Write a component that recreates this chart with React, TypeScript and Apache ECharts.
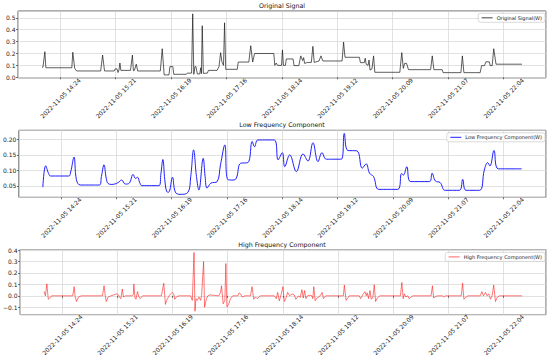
import React, { useEffect, useRef } from 'react';
import * as echarts from 'echarts';

// times are minutes since midnight on 2022-11-05
const origTimes = [845, 846, 848, 849, 876, 877, 879, 881, 906, 908, 910, 920, 921, 923, 924, 925, 926, 927, 937, 939, 940, 941, 943, 944.5, 968, 970, 972, 977, 978, 981, 982, 995, 996, 1000.5, 1001.7, 1002.8, 1004, 1005, 1006.5, 1009, 1010, 1010.7, 1011.6, 1012.7, 1017, 1018, 1027, 1029, 1030.7, 1032, 1033.7, 1034.8, 1036, 1048, 1049, 1060, 1062, 1064, 1066, 1086, 1087, 1088.5, 1090, 1094, 1095, 1096, 1098, 1099, 1106, 1107, 1112, 1114, 1116, 1117, 1118, 1121, 1125, 1126.6, 1128, 1133, 1135, 1137, 1157, 1158.5, 1160, 1175, 1176, 1180, 1181, 1182, 1184, 1185, 1186, 1188, 1189.7, 1191, 1217, 1219, 1220.6, 1222, 1224, 1226, 1249, 1250.7, 1252.4, 1261, 1262, 1280.5, 1282, 1283.6, 1300.5, 1302, 1305, 1306.5, 1310, 1311, 1313, 1314.6, 1317, 1344];
const origValues = [0.084, 0.085, 0.215, 0.08, 0.08, 0.21, 0.075, 0.053, 0.053, 0.187, 0.053, 0.053, 0.07, 0.07, 0.04, 0.06, 0.12, 0.058, 0.058, 0.187, 0.055, 0.058, 0.11, 0.053, 0.053, 0.24, 0.02, 0.02, 0.09, 0.09, 0.025, 0.025, 0.035, 0.035, 0.533, 0.025, 0.09, 0.09, 0.028, 0.028, 0.08, 0.03, 0.433, 0.033, 0.035, 0.058, 0.058, 0.09, 0.207, 0.13, 0.1, 0.458, 0.067, 0.067, 0.128, 0.128, 0.265, 0.128, 0.2, 0.2, 0.1, 0.12, 0.1, 0.1, 0.23, 0.1, 0.1, 0.154, 0.154, 0.098, 0.098, 0.18, 0.14, 0.165, 0.117, 0.125, 0.125, 0.26, 0.125, 0.137, 0.18, 0.137, 0.137, 0.296, 0.168, 0.168, 0.123, 0.123, 0.16, 0.11, 0.1, 0.145, 0.06, 0.07, 0.18, 0.042, 0.042, 0.207, 0.075, 0.117, 0.117, 0.064, 0.064, 0.18, 0.064, 0.064, 0.039, 0.039, 0.18, 0.039, 0.039, 0.098, 0.098, 0.13, 0.13, 0.098, 0.098, 0.24, 0.11, 0.11];

const lowTimes = [845, 848, 851, 853, 872, 874, 877.5, 880, 884, 904, 906, 908.7, 911, 913, 917, 923, 927, 931, 935, 939, 941.5, 943.5, 946, 948, 966, 968, 970, 972, 974, 976, 980, 983, 988, 996, 999, 1002, 1005, 1007.5, 1012, 1014, 1016, 1020, 1026.5, 1030, 1034.5, 1037.5, 1043, 1046.5, 1051, 1058.5, 1063, 1065.5, 1069, 1086, 1090, 1094.4, 1096.9, 1102.1, 1109, 1115.9, 1121.1, 1126.3, 1131.5, 1135.7, 1140.2, 1155.8, 1158.9, 1162.7, 1172, 1177.6, 1181.7, 1185.2, 1189.4, 1194.9, 1214.7, 1218.5, 1220.5, 1224, 1228, 1247.6, 1250.3, 1253.8, 1258.7, 1263.9, 1278.8, 1282.2, 1285.7, 1299.6, 1304.7, 1308.2, 1310.6, 1314.8, 1319.3, 1343.6];
const lowValues = [0.046, 0.115, 0.09, 0.082, 0.082, 0.095, 0.143, 0.07, 0.053, 0.053, 0.08, 0.118, 0.075, 0.058, 0.055, 0.06, 0.069, 0.056, 0.059, 0.087, 0.074, 0.078, 0.06, 0.051, 0.051, 0.09, 0.135, 0.07, 0.032, 0.03, 0.078, 0.03, 0.023, 0.029, 0.08, 0.166, 0.08, 0.037, 0.139, 0.08, 0.043, 0.059, 0.064, 0.118, 0.182, 0.071, 0.069, 0.075, 0.123, 0.125, 0.193, 0.176, 0.198, 0.198, 0.134, 0.157, 0.112, 0.15, 0.096, 0.153, 0.13, 0.189, 0.128, 0.157, 0.136, 0.136, 0.219, 0.164, 0.163, 0.107, 0.121, 0.091, 0.08, 0.039, 0.039, 0.09, 0.085, 0.112, 0.064, 0.064, 0.091, 0.066, 0.061, 0.036, 0.036, 0.071, 0.036, 0.036, 0.101, 0.125, 0.114, 0.164, 0.105, 0.105];

const highTimes = [845, 846.5, 848, 849.5, 851, 853, 875, 876.5, 877.5, 879, 881, 884, 906, 907.7, 909, 910, 912, 915, 921, 922.6, 924, 925.3, 926.7, 928, 930, 937, 938.2, 938.8, 940, 941, 942.6, 944, 945.4, 948, 967.6, 970, 971.8, 973, 975.6, 977.3, 978.7, 980.4, 981.5, 983.5, 986, 998, 999.8, 1001.6, 1002.6, 1003.6, 1005, 1006.8, 1008.5, 1009.5, 1011.6, 1012.6, 1014.4, 1016, 1018, 1027.5, 1029.3, 1030.3, 1032, 1033.8, 1034.8, 1035.9, 1037.6, 1039.7, 1042, 1047.3, 1048.7, 1050.1, 1051.8, 1055, 1060.5, 1062.2, 1063.9, 1065.7, 1067.4, 1071, 1085.4, 1087.5, 1088.9, 1090.6, 1092.7, 1094.4, 1095.8, 1097.9, 1099.3, 1101.4, 1103.8, 1106.2, 1107.9, 1110.7, 1112.4, 1114.2, 1115.6, 1117, 1118.3, 1120, 1122, 1124.6, 1125.6, 1126.6, 1128, 1129.8, 1133.2, 1135.3, 1136.7, 1139, 1157.5, 1158.5, 1160.3, 1161.6, 1163.7, 1174, 1175.5, 1177.6, 1180, 1181.4, 1182.4, 1183.8, 1185.2, 1186.6, 1188.3, 1189.7, 1191.1, 1192.8, 1195.6, 1217, 1218.5, 1219.9, 1221.2, 1222.6, 1224.7, 1226.1, 1227.5, 1230, 1249, 1250.4, 1251.7, 1253.5, 1256, 1260.7, 1262.1, 1264, 1280.5, 1281.9, 1283.3, 1285, 1287.4, 1300.3, 1302, 1303.7, 1305.8, 1307.5, 1309.2, 1311, 1312.7, 1314.4, 1316.2, 1317.9, 1320.3, 1344];
const highValues = [0.04, 0.0, 0.105, -0.03, -0.02, 0, 0, 0.08, -0.005, -0.05, -0.01, 0, 0, 0.088, 0, -0.05, -0.01, 0, 0.017, 0.01, -0.015, -0.025, 0.06, -0.01, 0, 0, 0.01, 0.103, -0.02, -0.03, 0.037, -0.01, -0.025, 0, 0, 0.11, -0.075, -0.04, 0, 0.017, 0.03, 0.017, -0.03, -0.008, 0, 0, -0.04, 0.38, -0.135, -0.025, -0.04, -0.01, -0.04, 0.003, 0.3, -0.1, -0.03, 0, 0.008, 0, 0.03, 0.088, -0.07, -0.04, 0.283, -0.097, -0.077, -0.025, 0, 0, 0.026, 0.017, -0.01, 0, 0, 0.08, -0.03, -0.01, -0.025, 0, 0, -0.025, 0.03, -0.045, 0.017, 0.08, -0.05, -0.015, 0.03, 0, 0.017, 0.008, -0.03, 0, -0.015, 0.054, -0.02, 0.046, -0.025, 0, 0.005, 0, -0.025, 0.08, -0.043, -0.02, 0, 0.03, -0.025, 0, 0, 0.094, -0.04, -0.025, 0, 0, -0.025, 0.008, 0.037, 0, 0.026, -0.025, 0.046, -0.03, -0.01, 0.097, -0.05, -0.02, 0, 0, 0.117, -0.025, 0.017, -0.01, 0, -0.025, -0.015, 0, 0, 0.088, -0.02, -0.005, 0, 0, -0.01, 0, 0, 0.11, -0.03, -0.015, 0, 0, 0.037, 0, 0.03, 0, 0.017, -0.03, 0, 0.094, -0.05, -0.015, 0, 0];

const titles = ['Original Signal', 'Low Frequency Component', 'High Frequency Component'];
const seriesNames = ['Original Signal(W)', 'Low Frequency Component(W)', 'High Frequency Component(W)'];
const seriesColors = ['#1a1a1a', '#1f1fff', '#ff1a1a'];
const yMins = [-0.006, 0.0135, -0.165];
const yMaxs = [0.557, 0.229, 0.405];
const yIntervals = [0.1, 0.05, 0.1];
const yDecimals = [1, 2, 1];

const TICK_MIN = 57.6; // 0.04 day in minutes
const X_MIN = 820.05;
const X_MAX = 1368.95;
const FONT = 'DejaVu Sans';

const pad = (n: number) => (n < 10 ? '0' + n : '' + n);

function toPairs(ts: number[], vs: number[]) {
  return ts.map((t, i) => [t / TICK_MIN, vs[i]]);
}

export default function App() {
  const ref = useRef<HTMLDivElement>(null);
  useEffect(() => {
    if (!ref.current) return;
    const chart = echarts.init(ref.current, undefined, { renderer: 'svg' });
    const tops = [11, 130.3, 249.6];
    const titleTops = [2.4, 121.9, 241.2];
    const legendTops = [13.3, 132.8, 252.4];
    const data = [toPairs(origTimes, origValues), toPairs(lowTimes, lowValues), toPairs(highTimes, highValues)];

    const fmtX = (u: number) => {
      if (Math.abs(u - Math.round(u)) > 1e-6) return '';
      const s = Math.round(u * TICK_MIN * 60);
      const h = Math.floor(s / 3600);
      const m = Math.floor((s % 3600) / 60);
      return `2022-11-05 ${pad(h)}:${pad(m)}`;
    };

    const option: any = {
      animation: false,
      backgroundColor: '#ffffff',
      title: titles.map((t, i) => ({
        text: t,
        left: 282,
        top: titleTops[i],
        textAlign: 'center',
        padding: 0,
        textStyle: { fontSize: 6.3, fontWeight: 'normal', color: '#111', fontFamily: FONT },
      })),
      legend: seriesNames.map((n, i) => ({
        data: [n],
        right: 5,
        top: legendTops[i],
        itemWidth: 11,
        itemHeight: 5,
        selectedMode: false,
        padding: [2, 3, 2, 3],
        borderColor: '#cccccc',
        borderWidth: 0.7,
        borderRadius: 2,
        backgroundColor: 'rgba(255,255,255,0.8)',
        itemStyle: { opacity: 0, borderWidth: 0 },
        lineStyle: { width: i === 1 ? 1.0 : 0.8 },
        textStyle: { fontSize: 5, color: '#222', fontFamily: FONT, padding: [0, 0, 0, -1] },
      })),
      grid: tops.map((t) => ({
        left: 18,
        right: 4,
        top: t,
        height: 67,
        show: true,
        borderColor: '#333',
        borderWidth: 0.8,
        backgroundColor: 'transparent',
        containLabel: false,
      })),
      xAxis: tops.map((_, i) => ({
        type: 'value',
        gridIndex: i,
        min: X_MIN / TICK_MIN,
        max: X_MAX / TICK_MIN,
        minInterval: 1,
        maxInterval: 1,
        axisLine: { show: false },
        axisTick: { show: true, length: 2, lineStyle: { color: '#333', width: 0.7 } },
        splitLine: { show: true, lineStyle: { color: '#d4d4d4', width: 0.7 } },
        axisLabel: {
          formatter: fmtX,
          rotate: 45,
          align: 'center',
          verticalAlign: 'middle',
          margin: 20,
          fontSize: 6,
          color: '#222',
          fontFamily: FONT,
          showMinLabel: false,
          showMaxLabel: false,
        },
      })),
      yAxis: tops.map((_, i) => ({
        type: 'value',
        gridIndex: i,
        min: yMins[i],
        max: yMaxs[i],
        minInterval: yIntervals[i],
        maxInterval: yIntervals[i],
        axisLine: { show: false },
        axisTick: { show: true, length: 2, lineStyle: { color: '#333', width: 0.7 } },
        splitLine: { show: true, lineStyle: { color: '#d4d4d4', width: 0.7 } },
        axisLabel: {
          formatter: (v: number) => {
            const k = v / yIntervals[i];
            if (Math.abs(k - Math.round(k)) > 1e-6) return '';
            const s = v.toFixed(yDecimals[i]);
            return s.startsWith('-') ? '\u2212' + s.slice(1) : s;
          },
          margin: 2.5,
          fontSize: 6,
          color: '#222',
          fontFamily: FONT,
          showMinLabel: false,
          showMaxLabel: false,
        },
      })),
      series: seriesNames.map((n, i) => ({
        name: n,
        type: 'line',
        xAxisIndex: i,
        yAxisIndex: i,
        data: data[i],
        symbol: 'none',
        smooth: i === 1 ? 0.4 : false,
        color: seriesColors[i],
        lineStyle: { color: seriesColors[i], width: i === 1 ? 1.0 : 0.7, opacity: i === 2 ? 0.85 : 1 },
      })),
    };
    chart.setOption(option);
    return () => chart.dispose();
  }, []);
  return <div ref={ref} style={{ position: 'fixed', left: 0, top: 0, width: 550, height: 358 }} />;
}
